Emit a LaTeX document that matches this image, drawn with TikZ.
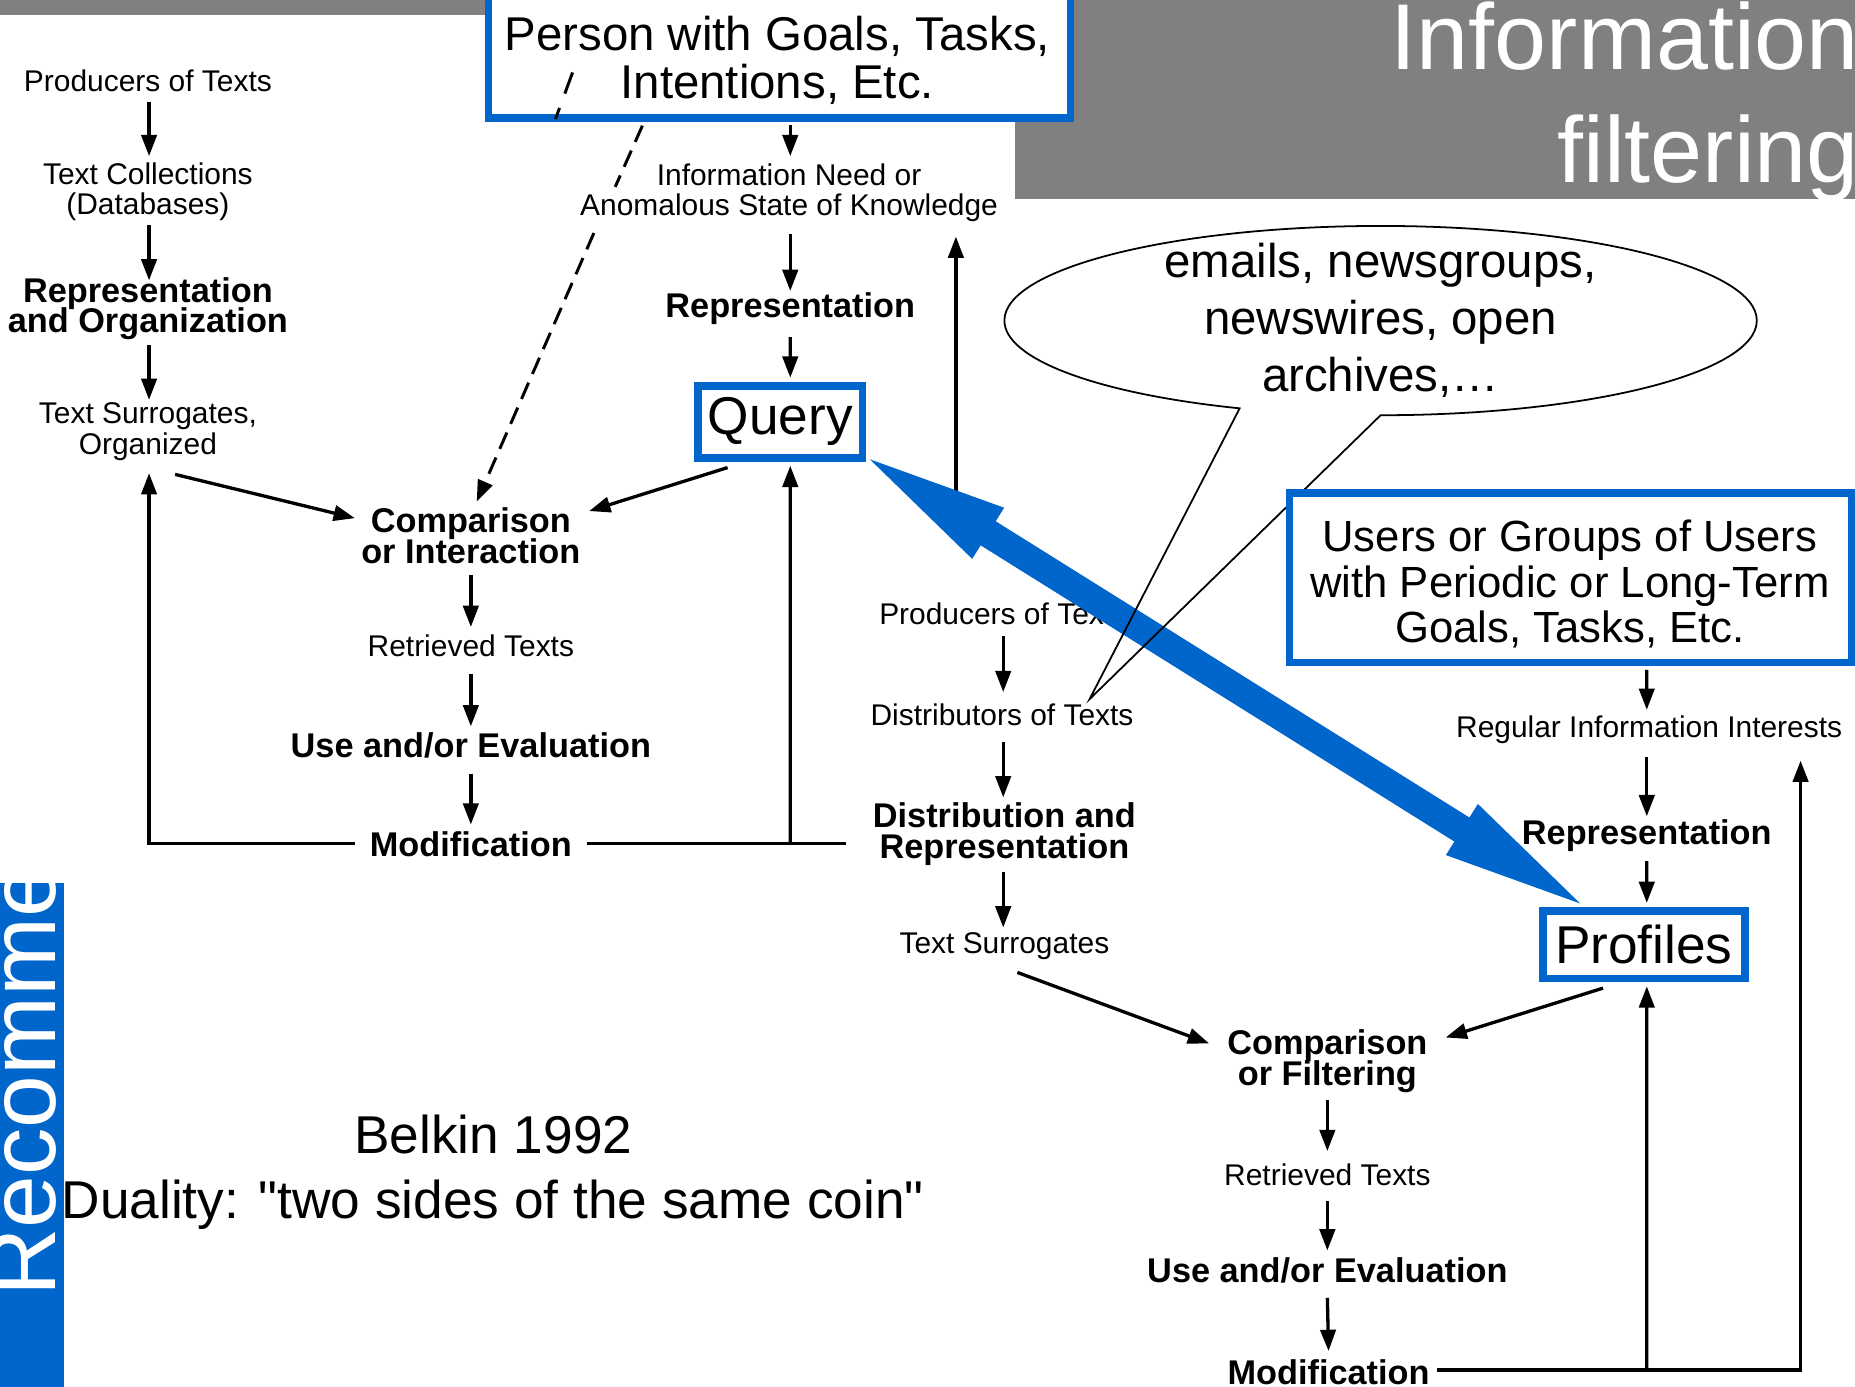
\documentclass[tikz,border=0pt]{standalone}
\usepackage{fontspec}
\setmainfont{Liberation Sans}[Ligatures=TeXOff]
\usetikzlibrary{arrows.meta,calc}
\definecolor{ublue}{HTML}{0066CC}
\definecolor{ugray}{HTML}{808080}
\pgfdeclarelayer{bg}
\pgfdeclarelayer{diag}
\pgfdeclarelayer{barrow}
\pgfsetlayers{bg,diag,barrow,main}
\newcommand\nolsk{\lineskiplimit-50pt\relax}
\tikzset{
  txt/.style={font=\fontsize{7.2}{7.4}\selectfont\nolsk, align=center, inner sep=0pt},
  btxt/.style={font=\fontsize{8.25}{7.4}\selectfont\bfseries\nolsk, align=center, inner sep=0pt},
  arr/.style={line width=0.28mm, -{Triangle[length=1.8mm,width=1.3mm]}},
  ln/.style={line width=0.28mm},
  dashln/.style={line width=0.25mm, dash pattern=on 1.5mm off 0.8mm},
  bluebox/.style={draw=ublue, line width=0.65mm, fill=white, inner sep=0pt},
  bigtxt/.style={font=\fontsize{12.8}{12.8}\selectfont},
}
\begin{document}
\begin{tikzpicture}[x=0.1mm,y=-0.1mm]
\useasboundingbox (0,0) rectangle (1568,1172);
\clip (0,0) rectangle (1568,1172);
\begin{pgfonlayer}{bg}
  \fill[white] (0,0) rectangle (1568,1172);
  \fill[ugray] (0,0) rectangle (1568,13);
  \fill[ugray] (858,0) rectangle (1568,168);
  \node[text=white, font=\fontsize{22.5}{27}\selectfont, anchor=base east, inner sep=0pt] (title1) at (1572,59) {Information};
  \node[text=white, font=\fontsize{22.5}{27}\selectfont, anchor=base east, inner sep=0pt] (title2) at (1572,154) {filtering};
  \fill[ublue] (0,746) rectangle (54,1172);
  \begin{scope}
    \clip (0,746) rectangle (54,1172);
    \node[text=white, font=\fontsize{22.8}{27}\selectfont, rotate=90, anchor=base west, inner sep=0pt] (rec) at (47,1097) {Recomme};
  \end{scope}
\end{pgfonlayer}

% blue boxes (main layer, on top)
\node[bluebox, minimum width=49.2mm, minimum height=11.9mm] (pbox) at (659,40) {};
\draw[line width=0.25mm, dash pattern=on 1.9mm off 1.3mm] ($(pbox.south)+(-175,-41.5)$) -- ($(pbox.south)+(-189.5,-2)$);
\node[font=\fontsize{11.4}{11.4}\selectfont, align=center, inner sep=0pt] (ptext) at (657,51) {Person with Goals, Tasks,\\Intentions, Etc.};
\node[bluebox, bigtxt, minimum width=13.9mm, minimum height=6.1mm] (qbox) at (659.5,356.5) {Query};
\node[bluebox, minimum width=47.5mm, minimum height=14.3mm] (ubox) at (1327.5,488.5) {};
\node[font=\fontsize{10.5}{10.95}\selectfont, align=center, inner sep=0pt] (utext) at (1327,494) {Users or Groups of Users\\with Periodic or Long-Term\\Goals, Tasks, Etc.};
\node[bluebox, bigtxt, minimum width=17.1mm, minimum height=5.7mm] (prof) at (1389.5,798.5) {Profiles};

\begin{pgfonlayer}{diag}
  \node[txt] (p1) at (125,68) {Producers of Texts};
  \node[txt] (p2) at (125,162) {Text Collections\\(Databases)};
  \node[btxt] (p3) at (125,261) {Representation\\and Organization};
  \node[txt] (p4) at (125,365) {Text Surrogates,\\Organized};
  \node[btxt] (c1) at (398,453) {Comparison\\or Interaction};
  \node[txt] (c2) at (398,546) {Retrieved Texts};
  \node[btxt] (c3) at (398,630) {Use and/or Evaluation};
  \node[btxt] (c4) at (398,714) {Modification};
  \node[txt] (q1) at (667,163) {Information Need or\\Anomalous State of Knowledge};
  \node[btxt] (q2) at (668,261) {Representation};
  \node[txt] (d1) at (848,519) {Producers of Texts};
  \node[txt] (d2) at (847,604) {Distributors of Texts};
  \node[btxt] (d3) at (849,705) {Distribution and\\Representation};
  \node[txt] (d4) at (849,800) {Text Surrogates};
  \node[txt] (u1) at (1394,617) {Regular Information Interests};
  \node[btxt] (u2) at (1392,706) {Representation};
  \node[btxt] (f1) at (1122,897) {Comparison\\or Filtering};
  \node[txt] (f2) at (1122,993) {Retrieved Texts};
  \node[btxt] (f3) at (1122,1074) {Use and/or Evaluation};
  \node[btxt] (f4) at (1123,1160) {Modification};

  \coordinate (dA) at (520,158);
  \coordinate (dB) at (502,197);
  \coordinate (vstart) at (808,420);
  \coordinate (modend) at (715,713);

  % left column
  \draw[arr] ($(p1)+(1,18)$) -- ($(p2)+(1,-30)$);
  \draw[arr] ($(p2)+(1,28)$) -- ($(p3)+(1,-24)$);
  \draw[arr] ($(p3)+(1,31)$) -- ($(p4)+(1,-27)$);
  \draw[arr] ($(p4)+(23,36)$) -- ($(c1)+(-98,-15)$);
  \draw[arr] ($(c1)+(0,33)$) -- ($(c2)+(0,-16)$);
  \draw[arr] ($(c2)+(0,24)$) -- ($(c3)+(0,-16)$);
  \draw[arr] ($(c3)+(0,24)$) -- ($(c4)+(0,-17)$);
  \draw[arr] ($(c4)+(-98,-1)$) -| ($(p4)+(1,35)$);
  \draw[ln] ($(c4)+(98,-1)$) -- (modend);
  \draw[arr] ($(c4)+(270,-1)$) -- ($(qbox.south)+(8.5,3.5)$);
  % query column
  \draw[arr] ($(pbox.south)+(9,3)$) -- ($(q1)+(1,-31)$);
  \draw[arr] ($(q1)+(1,35)$) -- ($(q2)+(0,-15)$);
  \draw[arr] ($(q2)+(0,24)$) -- ($(qbox.north)+(8.5,-3.5)$);
  \draw[arr] ($(qbox.south)+(-44.5,5)$) -- ($(c1)+(100,-21)$);
  \draw[dashln] ($(pbox.south)+(-116,3.5)$) -- (dA);
  \draw[dashln, -{Triangle[length=1.8mm,width=1.3mm]}] (dB) -- ($(c1)+(5,-29)$);
  \draw[arr] (vstart) -- ($(q1)+(141,37)$);
  % distribution column
  \draw[arr] ($(d1)+(0,19)$) -- ($(d2)+(1,-19)$);
  \draw[arr] ($(d2)+(1,23)$) -- ($(d3)+(-1,-31)$);
  \draw[arr] ($(d3)+(-1,32)$) -- ($(d4)+(-1,-16)$);
  \draw[arr] ($(d4)+(11,22)$) -- ($(f1)+(-100,-15)$);
  % users column
  \draw[arr] ($(ubox.south)+(64.5,3)$) -- ($(u1)+(-2,-17)$);
  \draw[arr] ($(u1)+(-2,23)$) -- ($(u2)+(0,-16)$);
  \draw[arr] ($(u2)+(0,22)$) -- ($(prof.north)+(2.5,-3.5)$);
  \draw[arr] ($(prof.south)+(-34.5,5)$) -- ($(f1)+(100,-20)$);
  \draw[arr] ($(f1)+(0,33)$) -- ($(f2)+(0,-20)$);
  \draw[arr] ($(f2)+(0,22)$) -- ($(f3)+(0,-17)$);
  \draw[arr] ($(f3)+(0,23)$) -- ($(f4)+(0,-18)$);
  \draw[arr] ($(f4)+(92,-2)$) -| ($(u1)+(128,26)$);
  \draw[arr] ($(f4)+(269,-2)$) -- ($(prof.south)+(2.5,3.5)$);

  \node[font=\fontsize{12.8}{15.6}\selectfont, anchor=base, inner sep=0pt] (belkin) at (417,975) {Belkin 1992};
  \node[font=\fontsize{12.8}{15.6}\selectfont, anchor=base, inner sep=0pt] (duality) at (416.5,1030) {Duality: "two sides of the same coin"};
\end{pgfonlayer}

\begin{pgfonlayer}{barrow}
  % double blue arrow between Query and Profiles
  \coordinate (ba) at ($(qbox.south east)+(3,-2)$);
  \coordinate (bb) at ($(prof.north west)+(35,-3)$);
  \coordinate (ha) at ($(ba)!11.8mm!(bb)$);
  \coordinate (hb) at ($(bb)!11.8mm!(ba)$);
  \fill[ublue] (ba) -- ($(ha)!2.55mm!90:(bb)$) -- ($(ha)!1.2mm!90:(bb)$) -- ($(hb)!1.2mm!-90:(ba)$) -- ($(hb)!2.55mm!-90:(ba)$) -- (bb)
     -- ($(hb)!2.55mm!90:(ba)$) -- ($(hb)!1.2mm!90:(ba)$) -- ($(ha)!1.2mm!-90:(bb)$) -- ($(ha)!2.55mm!-90:(bb)$) -- cycle;
  \node[font=\fontsize{11.4}{13.66}\selectfont, align=center, inner sep=0pt] (cal) at (1167,271) {emails, newsgroups,\\newswires, open\\archives,\dots};
  \coordinate (caltip) at (921,591);
  \draw[line width=0.15mm] ($(cal)+(0,80)$) arc[start angle=90, end angle=-248, x radius=318, y radius=80] -- (caltip) -- cycle;
\end{pgfonlayer}
\end{tikzpicture}
\end{document}
